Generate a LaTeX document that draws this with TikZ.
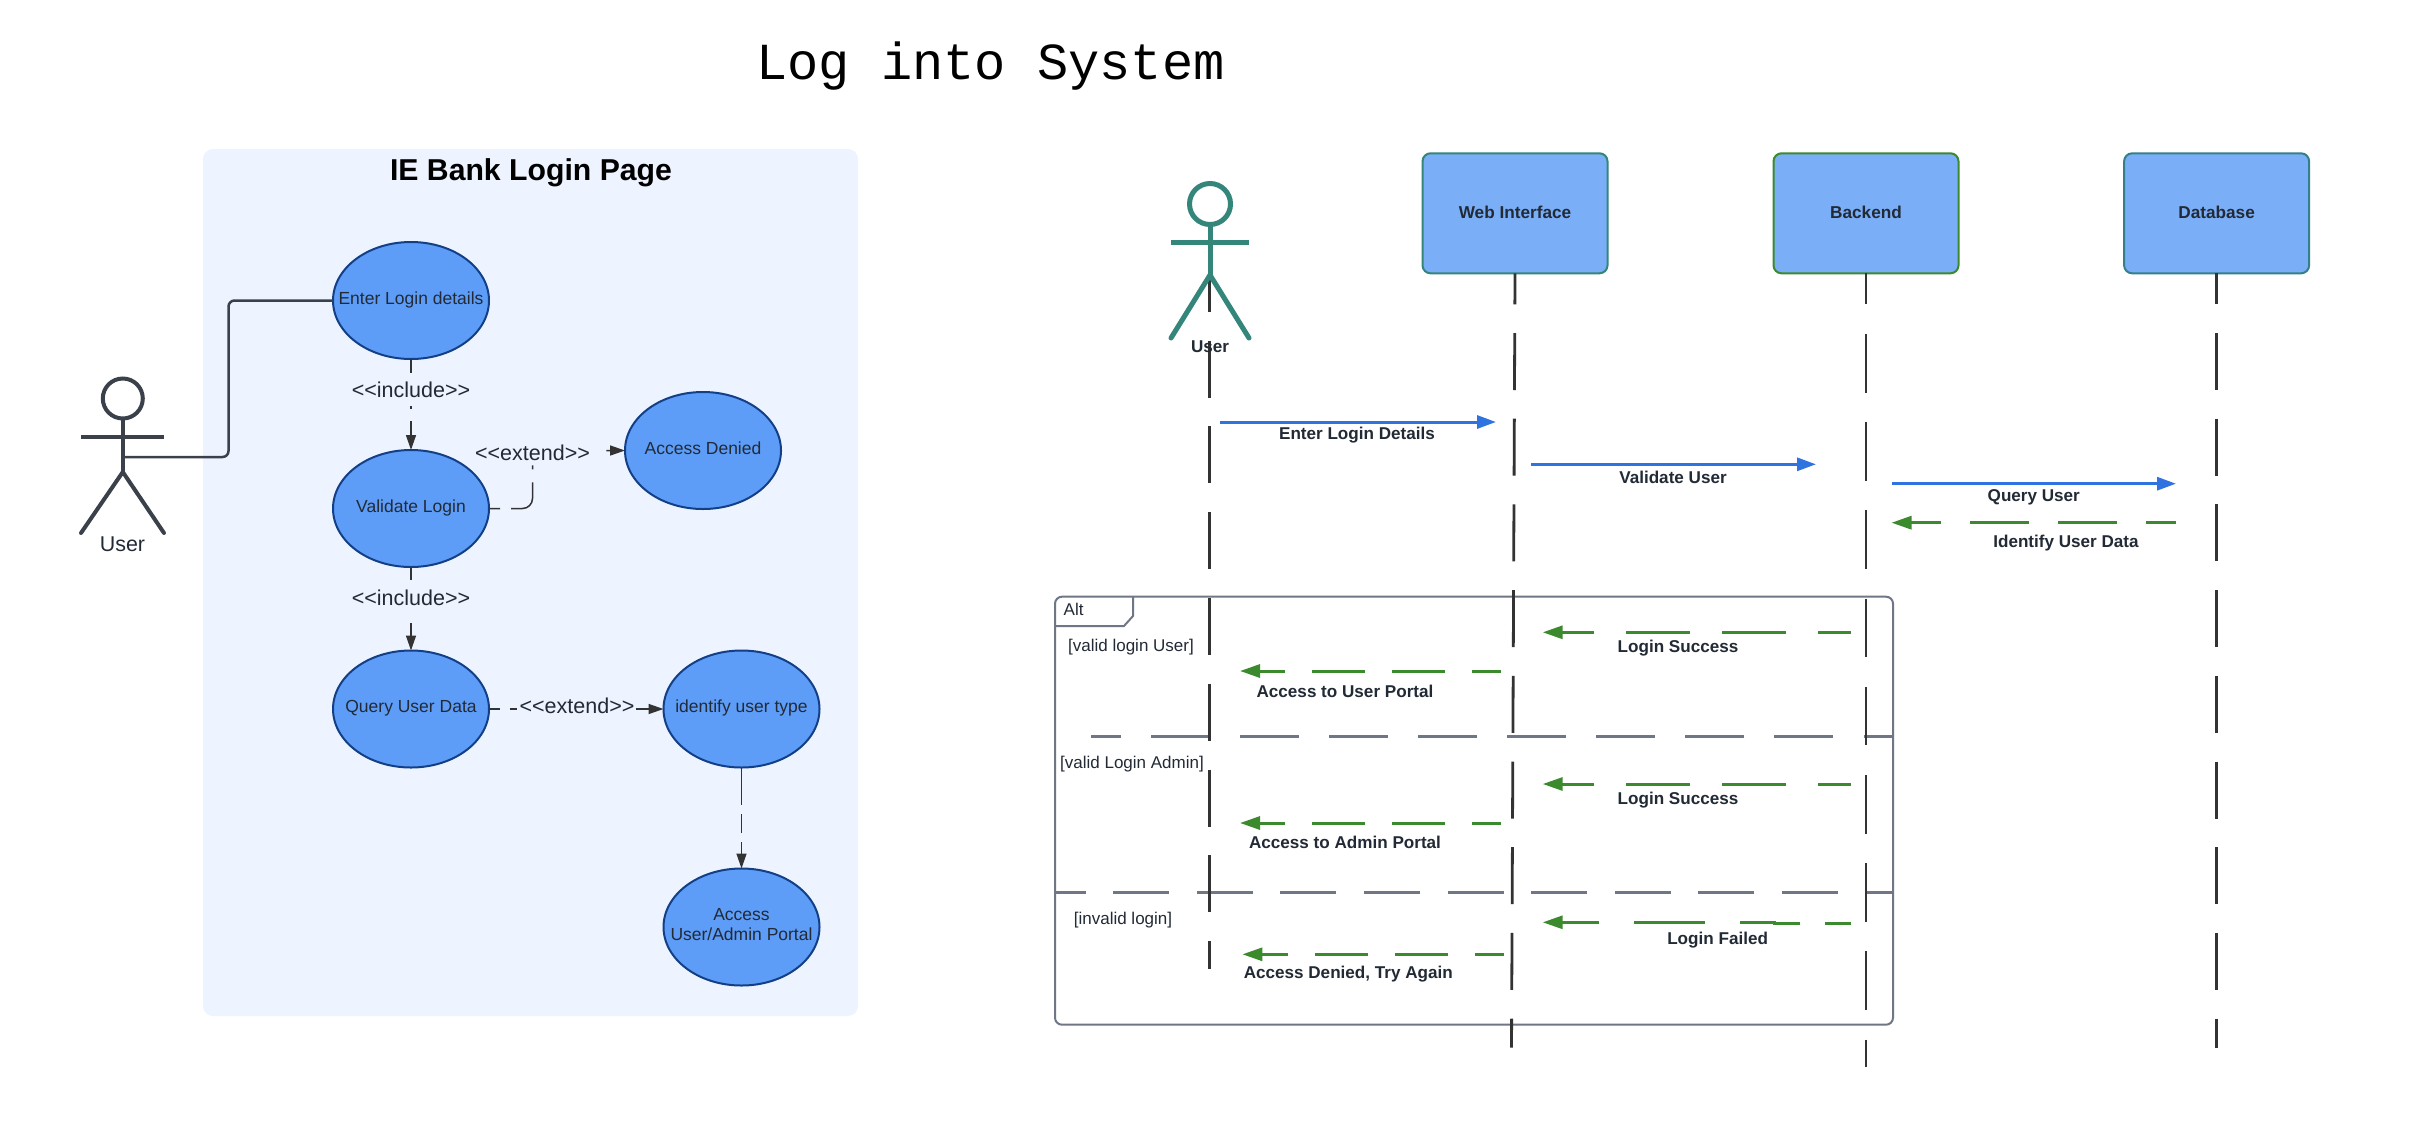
\documentclass[tikz,border=0pt]{standalone}
\usepackage{fontspec}
\setmainfont{Liberation Sans}
\newfontfamily\titlefont{Liberation Mono}
\usetikzlibrary{arrows.meta,shapes.geometric}
\definecolor{panelc}{HTML}{EDF4FF}
\definecolor{ellfill}{HTML}{5E9DF7}
\definecolor{ellline}{HTML}{123F86}
\definecolor{boxfill}{HTML}{7AAFF8}
\definecolor{tealA}{HTML}{34857A}
\definecolor{tealB}{HTML}{34808A}
\definecolor{greenL}{HTML}{3C8A2E}
\definecolor{blueL}{HTML}{2F73E0}
\definecolor{greyL}{HTML}{6F7685}
\definecolor{darkL}{HTML}{333333}
\definecolor{actorL}{HTML}{3A414A}
\definecolor{txt}{HTML}{222A35}
\newcommand{\elabel}[2]{\raisebox{#1}[0pt][0pt]{\makebox[0pt]{#2}}}
\newcommand{\stereo}[1]{<{}<#1>{}>}
\tikzset{
  base font/.style={font=\fontsize{17}{20.5}\selectfont, text=txt, inner sep=0pt, outer sep=0pt},
  usecase/.style={ellipse, draw=ellline, fill=ellfill, line width=2pt, minimum width=156pt, minimum height=117pt, inner sep=0pt, outer sep=0pt, font=\fontsize{17.5}{20.5}\selectfont, text=txt},
  bigtag/.style={font=\fontsize{21.5}{24}\selectfont, text=txt, inner sep=0pt, outer sep=0pt},
  lifebox/.style={rectangle, rounded corners=8pt, fill=boxfill, line width=2pt, minimum width=185pt, minimum height=120pt, inner sep=0pt, outer sep=0pt, font=\bfseries\fontsize{17.2}{20.5}\selectfont, text=txt},
  msgtext/.style={font=\bfseries\fontsize{17.1}{20.5}\selectfont, text=txt, inner sep=0pt, outer sep=0pt},
  guard/.style={base font},
  ucdash/.style={draw=darkL, line width=1.5pt, -{Triangle[length=15pt,width=10pt]}},
  lifeline/.style={draw=darkL, line width=2.8pt},
  webdash/.style={dash pattern=on 57pt off 28.7pt, dash phase=26pt},
  reqmsg/.style={draw=blueL, line width=3pt, -{Triangle[length=19pt,width=13pt]}},
  repmsg/.style={draw=greenL, line width=3pt, -{Triangle[length=20pt,width=13pt]}},
  sep/.style={draw=greyL, line width=2.8pt},
  actorlimb/.style={line width=4pt, draw=actorL},
  tealimb/.style={line width=5pt, draw=tealA}
}
\begin{document}
\begin{tikzpicture}[x=1pt,y=-1pt]
\useasboundingbox (0,0) rectangle (2414,1144);
\fill[white] (0,0) rectangle (2414,1144);

% ---------- title
\node[inner sep=0pt, text=black, font=\titlefont\fontsize{52}{60}\selectfont] (title) at (990.5,66.5) {Log into System};

% ---------- use case panel
\node[rectangle, fill=panelc, rounded corners=10pt, minimum width=655pt, minimum height=867pt, inner sep=0pt, outer sep=0pt] (panel) at (530.5,582.5) {};
\node[inner sep=0pt, text=black, font=\bfseries\fontsize{30.2}{34}\selectfont] (paneltitle) at (531,172.5) {IE Bank Login Page};

\node[usecase] (enter) at (411,300.5) {\elabel{-3.5pt}{Enter Login details}};
\node[usecase] (validate) at (411,508.5) {\elabel{-3.5pt}{Validate Login}};
\node[usecase] (denied) at (703,450.5) {\elabel{-3.5pt}{Access Denied}};
\node[usecase] (query) at (411,709) {\elabel{-3.5pt}{Query User Data}};
\node[usecase] (identify) at (741.5,709) {\elabel{-3.5pt}{identify user type}};
\node[usecase] (portal) at (741.5,927) {\elabel{7pt}{Access}\elabel{-13.7pt}{User/Admin Portal}};

\node[bigtag] (inc1) at (411,390) {\stereo{include}};
\node[bigtag] (inc2) at (411,598) {\stereo{include}};
\node[bigtag] (ext1) at (532.5,453) {\stereo{extend}};
\node[bigtag] (ext2) at (577,706) {\stereo{extend}};

% use case actor
\node[circle, draw=actorL, line width=4pt, minimum size=40pt, inner sep=0pt, outer sep=0pt] (uhead) at (122.8,398.5) {};
\coordinate (uhip) at (122.8,472);
\coordinate (uarmL) at (81,437);
\coordinate (uarmR) at (164,437);
\coordinate (ulegL) at (81,533);
\coordinate (ulegR) at (164,533);
\coordinate (uhand) at (122.8,457);
\coordinate (ubend) at (228.5,380);
\draw[actorlimb] (uhead.south) -- (uhip);
\draw[actorlimb] (uarmL) -- (uarmR);
\draw[actorlimb, line cap=round] (ulegL) -- (uhip) -- (ulegR);
\node[bigtag, font=\fontsize{21.4}{24}\selectfont] (ulabel) at (122.5,544) {User};
\draw[draw=actorL, line width=2.5pt, rounded corners=6pt] (uhand) -| (ubend) |- (enter.west);

% use case connectors
\coordinate (elb) at (532.5,480);
\draw[ucdash, dash pattern=on 14pt off 33pt on 3pt off 12pt on 40pt] (enter.south) -- (validate.north);
\draw[ucdash, dash pattern=on 13pt off 43pt on 40pt] (validate.south) -- (query.north);
\draw[ucdash, rounded corners=10pt, dash pattern=on 11pt off 11pt on 43.2pt off 13pt on 4pt off 84.5pt on 40pt] (validate.east) -| (elb) |- (denied.west);
\draw[ucdash, dash pattern=on 11pt off 10pt on 7pt off 119pt on 40pt] (query.east) -- (identify.west);
\draw[ucdash, dash pattern=on 37.5pt off 9pt on 19pt off 9pt on 40pt] (identify.south) -- (portal.north);

% ---------- sequence: frame
\draw[draw=greyL, line width=2pt, rounded corners=7pt] (1055,596.7) rectangle (1893,1024.7);
\coordinate (frTabA) at (1133,596.7);
\coordinate (frTabB) at (1133,616);
\coordinate (frTabC) at (1124,626);
\coordinate (frTabD) at (1055,626);
\draw[draw=greyL, line width=2pt] (frTabA) -- (frTabB) -- (frTabC) -- (frTabD);
\node[guard] (altlabel) at (1073.6,609.3) {Alt};
\coordinate (sepAr) at (1893,736.3);
\coordinate (sepAl) at (1091,736.3);
\coordinate (sepBr) at (1893,892.3);
\coordinate (sepBl) at (1055,892.3);
\draw[sep, dash pattern=on 59pt off 30.1pt, dash phase=29.5pt] (sepAr) -- (sepAl);
\draw[sep, dash pattern=on 56pt off 27.6pt, dash phase=28.5pt] (sepBr) -- (sepBl);

\node[guard] (g1) at (1131,647.5) {[valid login User]};
\node[guard] (g2) at (1132,764.5) {[valid Login Admin]};
\node[guard] (g3) at (1123,920) {[invalid login]};

% ---------- sequence: participants
\node[lifebox, draw=tealA] (web) at (1515,213.3) {\raisebox{2pt}{Web Interface}};
\node[lifebox, draw=greenL] (backend) at (1866,213.3) {\raisebox{2pt}{Backend}};
\node[lifebox, draw=tealB] (db) at (2216.6,213.3) {\raisebox{2pt}{Database}};

\coordinate (sysTop) at (1209.6,254.7);
\coordinate (sysEnd) at (1209.6,969);
\coordinate (webEnd) at (1511.5,1047.7);
\coordinate (backEnd) at (1866,1066.7);
\coordinate (dbEnd) at (2216.6,1047.7);
\draw[lifeline, dash pattern=on 57pt off 28.8pt] (sysTop) -- (sysEnd);
\draw[lifeline, webdash] (web.south) -- (webEnd);
\draw[lifeline, dash pattern=on 58.5pt off 29.7pt, dash phase=27.5pt] (backend.south) -- (backEnd);
\draw[lifeline, webdash] (db.south) -- (dbEnd);

% sequence actor
\node[circle, draw=tealA, line width=5pt, minimum size=41pt, inner sep=0pt, outer sep=0pt] (shead) at (1210,204) {};
\coordinate (ship) at (1210,275);
\coordinate (sarmL) at (1171,242);
\coordinate (sarmR) at (1249,242);
\coordinate (slegL) at (1171,338);
\coordinate (slegR) at (1249,338);
\draw[tealimb] (shead.south) -- (ship);
\draw[tealimb] (sarmL) -- (sarmR);
\draw[tealimb, line cap=round] (slegL) -- (ship) -- (slegR);
\node[msgtext] (slabel) at (1210,346.7) {User};

% ---------- messages
\coordinate (m1s) at (1220,422);     \coordinate (m1e) at (1496,422);
\coordinate (m2s) at (1531,464.3);   \coordinate (m2e) at (1816,464.3);
\coordinate (m3s) at (1892,483.7);   \coordinate (m3e) at (2176,483.7);
\coordinate (m4s) at (2175.7,522.7); \coordinate (m4e) at (1891.5,522.7);
\coordinate (m5s) at (1851,632.3);   \coordinate (m5e) at (1542.7,632.3);
\coordinate (m6s) at (1501,671);     \coordinate (m6e) at (1240,671);
\coordinate (m7s) at (1851,784);     \coordinate (m7e) at (1542.7,784);
\coordinate (m8s) at (1501,823);     \coordinate (m8e) at (1240,823);
\coordinate (m9s) at (1851.4,923.3); \coordinate (m9e) at (1542.7,922.3);
\coordinate (m9a) at (1774,923.3);   \coordinate (m9b) at (1774,922.3);
\coordinate (m10s) at (1503.6,954.3); \coordinate (m10e) at (1242.4,954.3);

\draw[reqmsg] (m1s) -- (m1e);
\draw[reqmsg] (m2s) -- (m2e);
\draw[reqmsg] (m3s) -- (m3e);
\draw[repmsg, dash pattern=on 59pt off 29pt, dash phase=29pt] (m4s) -- (m4e);
\draw[repmsg, dash pattern=on 64pt off 32pt, dash phase=31pt] (m5s) -- (m5e);
\draw[repmsg, dash pattern=on 53pt off 27pt, dash phase=24pt] (m6s) -- (m6e);
\draw[repmsg, dash pattern=on 64pt off 32pt, dash phase=31pt] (m7s) -- (m7e);
\draw[repmsg, dash pattern=on 53pt off 27pt, dash phase=24pt] (m8s) -- (m8e);
\draw[repmsg, dash pattern=on 26.4pt off 25pt on 61pt off 35pt on 71pt off 35pt on 80pt] (m9s) -- (m9a) -- (m9b) -- (m9e);
\draw[repmsg, dash pattern=on 53pt off 27pt, dash phase=24pt] (m10s) -- (m10e);

\node[msgtext] (t1) at (1357,435) {Enter Login Details};
\node[msgtext] (t2) at (1673,477.7) {Validate User};
\node[msgtext] (t3) at (2033.8,497) {Query User};
\node[msgtext] (t4) at (2066,543.3) {Identify User Data};
\node[msgtext] (t5) at (1678,648) {Login Success};
\node[msgtext] (t6) at (1345,691.2) {Access to User Portal};
\node[msgtext] (t7) at (1678,800) {Login Success};
\node[msgtext] (t8) at (1345,842.7) {Access to Admin Portal};
\node[msgtext] (t9) at (1717.6,940.5) {Login Failed};
\node[msgtext] (t10) at (1348.3,974) {Access Denied, Try Again};
\end{tikzpicture}
\end{document}
